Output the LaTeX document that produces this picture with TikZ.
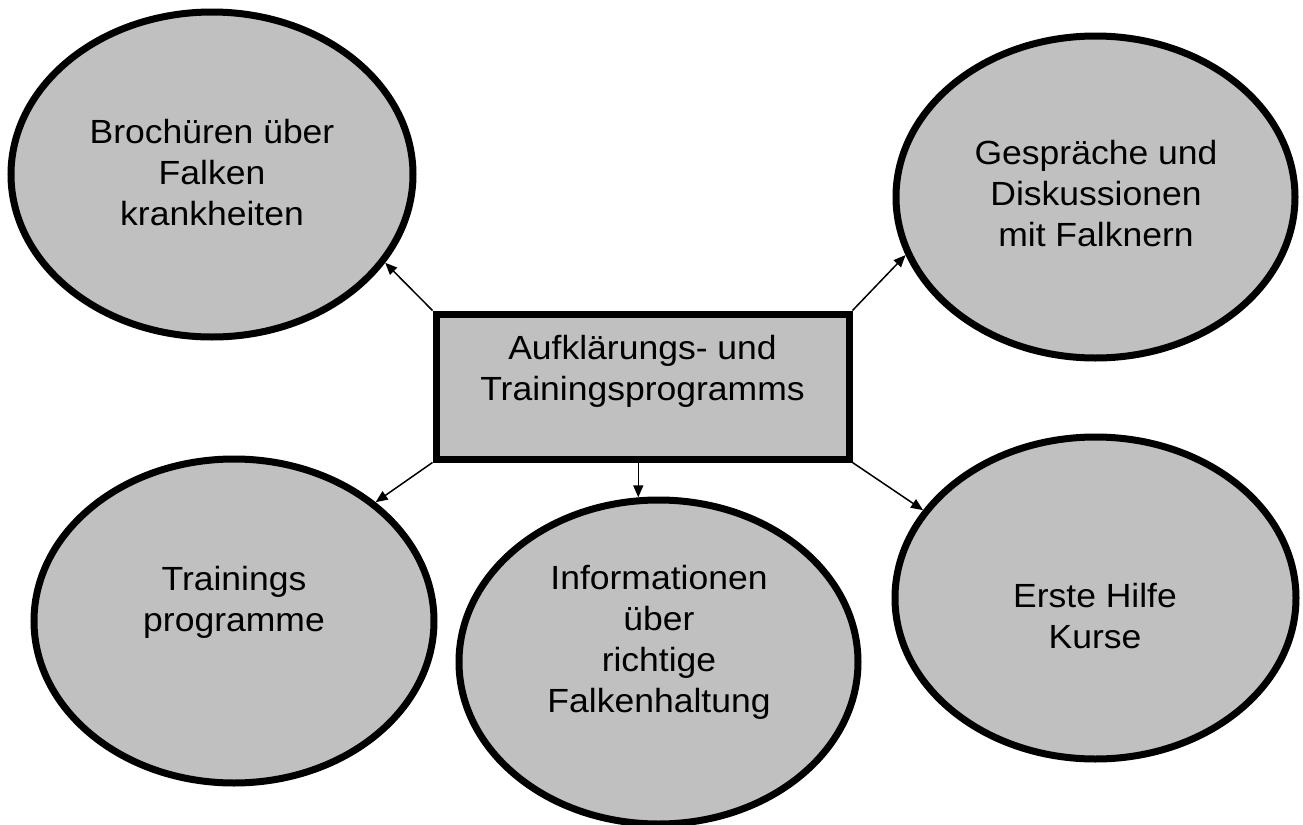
\documentclass[tikz,border=0pt]{standalone}
\usepackage{fontspec}
\setmainfont{Liberation Sans}[FakeStretch=1.06]
\usetikzlibrary{shapes.geometric,arrows.meta}
\definecolor{fillgray}{RGB}{192,192,192}
\tikzset{
  bubble/.style={ellipse, draw=black, fill=fillgray, line width=3.5pt, inner sep=0pt},
  centerbox/.style={rectangle, draw=black, fill=fillgray, line width=3.5pt, inner sep=0pt,
    minimum width=206.5pt, minimum height=72.5pt},
  txt/.style={align=center, inner sep=0pt, outer sep=0pt,
    font=\fontsize{16.75pt}{20.5pt}\selectfont},
  link/.style={line width=0.75pt, -{Triangle[length=6pt,width=5pt]}}
}
\begin{document}
\begin{tikzpicture}[x=0.5pt,y=-0.5pt]
\useasboundingbox[fill=white] (0,0) rectangle (1303,825);
% ellipses
\node[bubble, minimum width=201pt, minimum height=162.5pt] (eTL) at (212,174.5) {};
\node[bubble, minimum width=199.5pt, minimum height=161pt] (eTR) at (1095.5,197) {};
\node[bubble, minimum width=200pt, minimum height=162pt] (eBL) at (234,621) {};
\node[bubble, minimum width=199.5pt, minimum height=162pt] (eBM) at (658.5,662) {};
\node[bubble, minimum width=200.5pt, minimum height=161pt] (eBR) at (1095.5,598) {};
% central box
\node[centerbox] (box) at (642.5,386.5) {};
% texts
\node[txt] (tBox) at (642.5,371.3) {\strut Aufklärungs- und\\\strut Trainingsprogramms};
\node[txt] (tTL) at (212,175.8) {\strut Brochüren über\\\strut Falken\\\strut krankheiten};
\node[txt] (tTR) at (1096,196.8) {\strut Gespräche und\\\strut Diskussionen\\\strut mit Falknern};
\node[txt] (tBL) at (234,602.3) {\strut Trainings\\\strut programme};
\node[txt] (tBM) at (659,642.3) {\strut Informationen\\\strut über\\\strut richtige\\\strut Falkenhaltung};
\node[txt] (tBR) at (1095,619.3) {\strut Erste Hilfe\\\strut Kurse};
% connectors
\draw[link] (box.north west) -- (eTL.-27.4);
\draw[link] (box.north east) -- (eTR.197.8);
\draw[link] (box.south west) -- (eBL.40.2);
\draw[link] (eBM.97.5 |- box.south) -- (eBM.97.5);
\draw[link] (box.south east) -- (eBR.153.5);
\end{tikzpicture}
\end{document}
